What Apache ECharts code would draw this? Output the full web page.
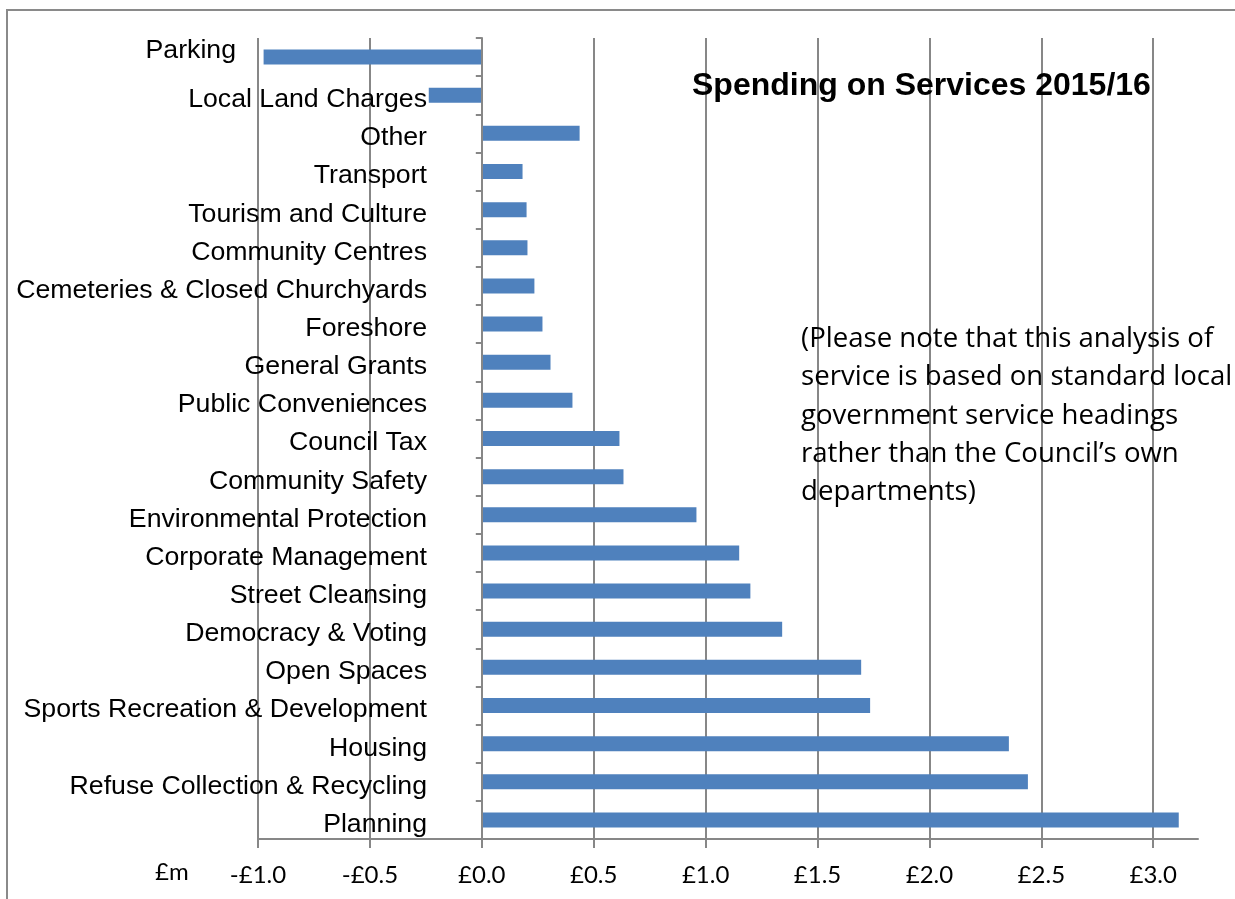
<!DOCTYPE html>
<html>
<head>
<meta charset="utf-8">
<script src="https://cdn.jsdelivr.net/npm/echarts@6/dist/echarts.min.js"></script>
<style>
html,body{margin:0;padding:0;background:#fff;}
#chart{width:1235px;height:899px;}
</style>
</head>
<body>
<div id="chart"></div>
<script>
const categories = [
  'Parking', 'Local Land Charges', 'Other', 'Transport', 'Tourism and Culture',
  'Community Centres', 'Cemeteries & Closed Churchyards', 'Foreshore', 'General Grants',
  'Public Conveniences', 'Council Tax', 'Community Safety', 'Environmental Protection',
  'Corporate Management', 'Street Cleansing', 'Democracy & Voting', 'Open Spaces',
  'Sports Recreation & Development', 'Housing', 'Refuse Collection & Recycling', 'Planning'
];
const spending = [
  -0.975, -0.237, 0.437, 0.182, 0.200,
  0.204, 0.235, 0.271, 0.307,
  0.405, 0.615, 0.633, 0.959,
  1.150, 1.200, 1.342, 1.695,
  1.735, 2.355, 2.440, 3.114
];
const titleText = 'Spending on Services 2015/16';
const noteLines = [
  '(Please note that this analysis of',
  'service is based on standard local',
  'government service headings',
  'rather than the Council\u2019s own',
  'departments)'
];
const unitLabel = '\u00a3m';

const chart = echarts.init(document.getElementById('chart'));
const gridColor = '#878787';
const catFont = { fontFamily: 'Liberation Sans', fontSize: 26.7, color: '#000' };
chart.setOption({
  backgroundColor: '#fff',
  animation: false,
  title: {
    text: titleText,
    left: 692, top: 70, padding: 0,
    textStyle: { fontFamily: 'Liberation Sans', fontWeight: 'bold', fontSize: 32, color: '#000' }
  },
  grid: { left: 258, right: 37, top: 38, bottom: 60, containLabel: false, outerBoundsMode: 'none' },
  xAxis: {
    type: 'value', min: -1, max: 3.2, interval: 0.5,
    axisLine: { show: true, lineStyle: { color: gridColor, width: 2 } },
    axisTick: { show: true, length: 9, lineStyle: { color: gridColor, width: 2 } },
    splitLine: { show: true, showMaxLine: false, lineStyle: { color: gridColor, width: 2 } },
    axisLabel: {
      showMaxLabel: false,
      margin: 24,
      fontFamily: 'Lato', fontSize: 24, color: '#000',
      formatter: v => (v < 0 ? '-\u00a3' + Math.abs(v).toFixed(1) : '\u00a3' + v.toFixed(1))
    }
  },
  yAxis: {
    type: 'category', data: categories, inverse: true, z: 5,
    axisLine: { show: true, onZero: true, lineStyle: { color: gridColor, width: 2 } },
    axisTick: { show: true, length: 6, lineStyle: { color: gridColor, width: 2 } },
    axisLabel: {
      margin: -169, ...catFont,
      formatter: (v, i) => (i === 0 ? '{p|' + v + '}' : '{n|' + v + '}'),
      rich: {
        n: { ...catFont, padding: [9, 0, 0, 0] },
        p: { ...catFont, padding: [0, 191, 12, 0] }
      }
    }
  },
  graphic: [
    { type: 'rect', silent: true, z: -10, shape: { x: 7, y: 10, width: 1300, height: 1000 },
      style: { fill: 'none', stroke: '#8a8a8a', lineWidth: 2 } },
    { type: 'text', left: 155, top: 860, style: { text: unitLabel, font: '24px Lato', fill: '#000' } },
    { type: 'text', left: 801, top: 320, z: 100,
      style: { text: noteLines.join('\n'), font: '27.6px "Open Sans"', lineHeight: 38.3, fill: '#000' } }
  ],
  series: [{
    type: 'bar', data: spending, barWidth: 15,
    itemStyle: { color: '#4F81BD' }
  }]
});
</script>
</body>
</html>
